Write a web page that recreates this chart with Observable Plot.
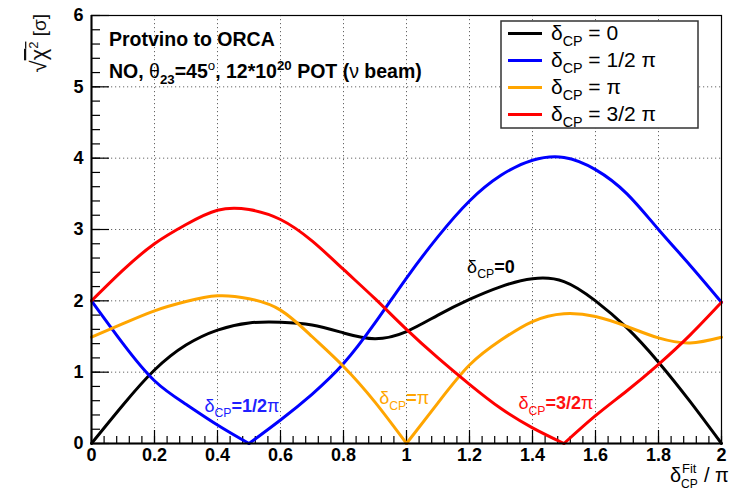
<!DOCTYPE html>
<html>
<head>
<meta charset="utf-8">
<script src="https://cdn.jsdelivr.net/npm/d3@7"></script>
<script src="https://cdn.jsdelivr.net/npm/@observablehq/plot@0.6"></script>
<style>
  html, body { margin: 0; padding: 0; background: #fff; }
  #chart svg { display: block; }
</style>
</head>
<body>
<div id="chart"></div>
<script>
// ---- data ----
const deltaFit = [0, 0.1, 0.2, 0.3, 0.4, 0.5, 0.6, 0.7, 0.8, 0.9, 1.0, 1.1, 1.2, 1.3, 1.4, 1.5, 1.6, 1.7, 1.8, 1.9, 2.0];
const chiDelta0       = [0, 0.54, 1.03, 1.38, 1.59, 1.69, 1.70, 1.66, 1.55, 1.47, 1.57, 1.80, 2.02, 2.20, 2.31, 2.27, 2.00, 1.62, 1.14, 0.59, 0];
const chiDeltaHalfPi  = [2.0, 1.40, 0.88, 0.55, 0.26, 0, 0.33, 0.69, 1.12, 1.69, 2.32, 2.90, 3.40, 3.76, 3.97, 4.01, 3.84, 3.50, 3.00, 2.50, 1.98];
const chiDeltaPi      = [1.49, 1.68, 1.86, 1.99, 2.07, 2.03, 1.87, 1.50, 1.08, 0.58, 0, 0.57, 1.10, 1.45, 1.71, 1.82, 1.78, 1.64, 1.48, 1.41, 1.49];
const chiDelta3HalfPi = [2.0, 2.43, 2.80, 3.07, 3.27, 3.28, 3.14, 2.84, 2.44, 2.03, 1.60, 1.20, 0.83, 0.49, 0.22, 0, 0.39, 0.74, 1.11, 1.52, 1.98];

const seriesNames  = ["0", "1/2 π", "π", "3/2 π"];
const seriesValues = [chiDelta0, chiDeltaHalfPi, chiDeltaPi, chiDelta3HalfPi];
const seriesCusp   = [null, 0.5, 1.0, 1.5];   // true δCP, where the curve touches zero
const seriesColors = ["#000000", "#0000ff", "#ffa500", "#ff0000"];

const xTicks = [0, 0.2, 0.4, 0.6, 0.8, 1, 1.2, 1.4, 1.6, 1.8, 2];
const xTickLabels = ["0", "0.2", "0.4", "0.6", "0.8", "1", "1.2", "1.4", "1.6", "1.8", "2"];
const yTicks = [0, 1, 2, 3, 4, 5, 6];
const yTickLabels = ["0", "1", "2", "3", "4", "5", "6"];

// ---- build rows; split each curve at its cusp so the V stays sharp ----
const rows = [];
seriesNames.forEach((name, s) => {
  deltaFit.forEach((x, i) => {
    const c = seriesCusp[s];
    const v = seriesValues[s][i];
    if (c === null) rows.push({name, seg: name + "a", x, v});
    else {
      if (x <= c + 1e-9) rows.push({name, seg: name + "a", x, v});
      if (x >= c - 1e-9) rows.push({name, seg: name + "b", x, v});
    }
  });
});

const W = 733, H = 493;
const mL = 91, mR = 12, mT = 15, mB = 50;
const plotW = W - mL - mR, plotH = H - mT - mB;
const font = "Liberation Sans, Arial, Helvetica, sans-serif";

const xMinor = d3.range(0, 2.0001, 0.04);
const yMinor = d3.range(0, 6.0001, 0.2);

const chart = Plot.plot({
  width: W, height: H,
  marginLeft: mL, marginRight: mR, marginTop: mT, marginBottom: mB,
  x: {domain: [0, 2], axis: null},
  y: {domain: [0, 6], axis: null},
  color: {domain: seriesNames, range: seriesColors},
  style: {fontFamily: font, background: "#fff", overflow: "visible"},
  marks: [
    // dotted grid
    Plot.ruleX(xTicks, {x: d => d, stroke: "#666", strokeWidth: 1, strokeDasharray: "1.2,2.8"}),
    Plot.ruleY(yTicks, {y: d => d, stroke: "#666", strokeWidth: 1, strokeDasharray: "1.2,2.8"}),
    // inside ticks
    Plot.tickX(xMinor, {x: d => d, insetTop: plotH - 7, stroke: "#000", strokeWidth: 1.2}),
    Plot.tickX(xTicks, {x: d => d, insetTop: plotH - 13, stroke: "#000", strokeWidth: 1.2}),
    Plot.tickY(yMinor, {y: d => d, insetRight: plotW - 9, stroke: "#000", strokeWidth: 1.2}),
    Plot.tickY(yTicks, {y: d => d, insetRight: plotW - 18, stroke: "#000", strokeWidth: 1.2}),
    // curves
    Plot.line(rows, {x: "x", y: "v", z: "seg", stroke: "name", strokeWidth: 3, curve: "natural"}),
    // frame
    Plot.frame({stroke: "#000", strokeWidth: 1.2}),
    Plot.ruleX([0], {stroke: "#000", strokeWidth: 2}),
    Plot.ruleY([0], {stroke: "#000", strokeWidth: 2}),
    // tick labels
    Plot.text(xTicks, {x: d => d, frameAnchor: "bottom", dy: 17, text: (d, i) => xTickLabels[i],
      fontSize: 18, fontWeight: "bold", fill: "#000"}),
    Plot.text(yTicks, {y: d => d, frameAnchor: "left", dx: -8, textAnchor: "end", text: (d, i) => yTickLabels[i],
      fontSize: 18, fontWeight: "bold", fill: "#000"})
  ]
});
document.getElementById("chart").appendChild(chart);

// ---- rich text overlays ----
const svg = d3.select(chart);
const sx = chart.scale("x"), sy = chart.scale("y");
const X = v => sx.apply(v), Y = v => sy.apply(v);

function rich(x, y, parts, {size = 18, weight = "normal", fill = "#000", anchor = "start"} = {}) {
  const t = svg.append("text").attr("x", x).attr("y", y)
    .attr("font-family", font).attr("font-size", size).attr("font-weight", weight)
    .attr("fill", fill).attr("text-anchor", anchor);
  let shift = 0;
  for (const p of parts) {
    const target = p.sub ? size * 0.3 : p.sup ? -size * 0.42 : 0;
    const ts = t.append("tspan").attr("dy", target - shift).text(p.t);
    if (p.sub || p.sup) ts.attr("font-size", size * 0.68);
    if (p.w) ts.attr("font-weight", p.w);
    if (p.size) ts.attr("font-size", p.size);
    if (p.deco) ts.attr("text-decoration", p.deco);
    shift = target;
  }
  return t;
}

// header text
rich(109, 46, [{t: "Protvino to ORCA"}], {size: 19.5, weight: "bold"});
rich(109, 78, [
  {t: "NO, "}, {t: "θ", w: "normal"}, {t: "23", sub: true}, {t: "=45"}, {t: "o", sup: true, w: "normal"},
  {t: ", 12*10"}, {t: "20", sup: true}, {t: " POT ("}, {t: "ν", w: "normal"}, {t: " beam)"}
], {size: 19.5, weight: "bold"});

// curve labels
const lab = [
  {x: 1.194, y: 2.39, rest: "=0", c: "#000000"},
  {x: 0.36, y: 0.44, rest: "=1/2", pi: true, c: "#2020ff"},
  {x: 0.915, y: 0.54, rest: "=", pi: true, c: "#ffa500"},
  {x: 1.357, y: 0.47, rest: "=3/2", pi: true, c: "#ff1010"}
];
lab.forEach(l => {
  const parts = [{t: "δ", w: "normal"}, {t: "CP", sub: true, w: "normal"}, {t: l.rest}];
  if (l.pi) parts.push({t: "π", w: "normal"});
  rich(X(l.x), Y(l.y), parts, {size: 18, weight: "bold", fill: l.c});
});

// legend
const lg = svg.append("g");
lg.append("rect").attr("x", 501).attr("y", 21).attr("width", 197).attr("height", 107)
  .attr("fill", "#fff").attr("stroke", "#333").attr("stroke-width", 1.5);
seriesNames.forEach((name, i) => {
  const cy = 33.5 + i * 27;
  lg.append("line").attr("x1", 508).attr("x2", 542).attr("y1", cy).attr("y2", cy)
    .attr("stroke", seriesColors[i]).attr("stroke-width", 3);
  rich(551, cy + 6, [{t: "δ"}, {t: "CP", sub: true}, {t: " = " + name}], {size: 21});
});

// axis titles
rich(670, 482, [{t: "δ"}], {size: 20});
rich(681, 488, [{t: "CP"}], {size: 12});
rich(682, 473, [{t: "Fit"}], {size: 13});
rich(704, 482, [{t: "/ π"}], {size: 20});

const yt = rich(0, 0, [{t: "√", size: 22}, {t: "χ", deco: "overline", size: 22}, {t: "2", sup: true, deco: "overline"}, {t: " [σ]"}], {size: 19, anchor: "end", fill: "#111"});
yt.attr("transform", "translate(46,14) rotate(-90)");
</script>
</body>
</html>
